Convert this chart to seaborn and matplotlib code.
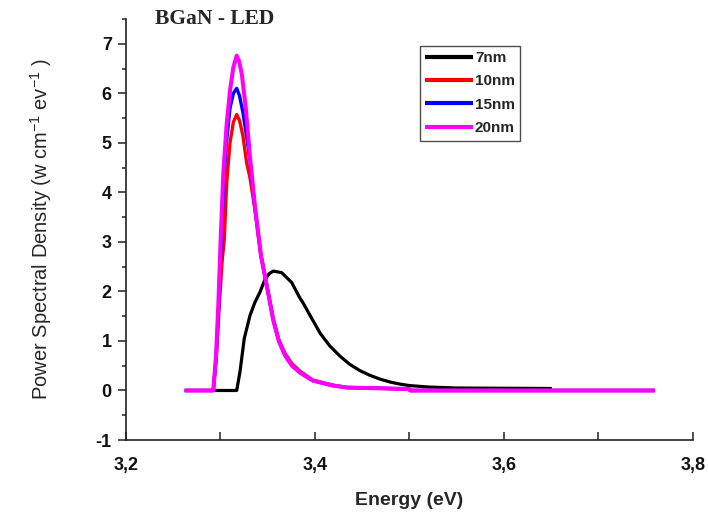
import numpy as np
import pandas as pd
import matplotlib
matplotlib.use("Agg")
import matplotlib.pyplot as plt
import seaborn as sns
from matplotlib.ticker import MultipleLocator

# ---- data ----
series_names = ["7nm", "10nm", "15nm", "20nm"]
series_colors = ["#000000", "#FF0000", "#0000FF", "#FF00FF"]

x_7nm = [3.2945, 3.3175, 3.321, 3.3255, 3.3315, 3.3368, 3.342, 3.3474, 3.352, 3.3562,
         3.365, 3.3757, 3.384, 3.388, 3.395, 3.406, 3.416, 3.427, 3.437, 3.448,
         3.458, 3.469, 3.480, 3.490, 3.500, 3.520, 3.550, 3.600, 3.651]
y_7nm = [0.0, 0.0, 0.38, 1.05, 1.51, 1.78, 1.98, 2.24, 2.36, 2.41,
         2.38, 2.18, 1.88, 1.76, 1.52, 1.15, 0.90, 0.69, 0.53, 0.40,
         0.31, 0.23, 0.17, 0.13, 0.10, 0.07, 0.05, 0.045, 0.04]

x_10nm = [3.2624, 3.2927, 3.2960, 3.2990, 3.3020, 3.3043, 3.3069, 3.3104, 3.3140, 3.3175,
          3.3205, 3.3240, 3.3280, 3.3315, 3.3368, 3.3432, 3.3475, 3.3510, 3.3562, 3.3620,
          3.3686, 3.3760, 3.3845, 3.398, 3.419, 3.434, 3.500, 3.501, 3.760]
y_10nm = [0.0, 0.0, 0.69, 1.70, 2.60, 3.04, 4.20, 5.00, 5.42, 5.57,
          5.45, 5.15, 4.60, 4.30, 3.65, 2.72, 2.30, 1.95, 1.44, 1.03,
          0.75, 0.54, 0.39, 0.21, 0.11, 0.06, 0.03, 0.0, 0.0]

x_15nm = [3.2624, 3.2927, 3.2958, 3.2984, 3.3012, 3.3043, 3.3069, 3.3104, 3.3140, 3.3175,
          3.3205, 3.3242, 3.3290, 3.3315, 3.3368, 3.3432, 3.3475, 3.3510, 3.3562, 3.3620,
          3.3686, 3.3760, 3.3845, 3.398, 3.419, 3.434, 3.500, 3.501, 3.760]
y_15nm = [0.0, 0.0, 0.69, 1.70, 3.04, 4.38, 5.05, 5.70, 6.00, 6.10,
          5.95, 5.60, 5.00, 4.65, 3.70, 2.72, 2.30, 1.95, 1.42, 1.00,
          0.71, 0.50, 0.36, 0.20, 0.10, 0.06, 0.03, 0.0, 0.0]

x_20nm = [3.2624, 3.2927, 3.2956, 3.2980, 3.3005, 3.3033, 3.3069, 3.3104, 3.3139, 3.3175,
          3.3200, 3.3228, 3.3270, 3.3315, 3.3368, 3.3432, 3.3475, 3.3510, 3.3562, 3.3620,
          3.3686, 3.3760, 3.3845, 3.398, 3.419, 3.434, 3.500, 3.501, 3.760]
y_20nm = [0.0, 0.0, 0.69, 1.70, 3.04, 4.38, 5.38, 6.05, 6.52, 6.76,
          6.65, 6.40, 5.73, 4.73, 3.72, 2.72, 2.30, 1.95, 1.42, 1.00,
          0.71, 0.50, 0.36, 0.20, 0.10, 0.06, 0.03, 0.0, 0.0]

x_ticks = [3.2, 3.4, 3.6, 3.8]
x_tick_labels = ["3,2", "3,4", "3,6", "3,8"]
y_ticks = [-1, 0, 1, 2, 3, 4, 5, 6, 7]
y_tick_labels = ["-1", "0", "1", "2", "3", "4", "5", "6", "7"]

title_text = "BGaN - LED"
x_label = "Energy (eV)"
y_label = r"Power Spectral Density (w cm$^{-1}$ ev$^{-1}$ )"

# ---- build long table ----
frames = []
for name, xs, ys in zip(series_names, [x_7nm, x_10nm, x_15nm, x_20nm],
                        [y_7nm, y_10nm, y_15nm, y_20nm]):
    frames.append(pd.DataFrame({"Energy": xs, "PSD": ys, "Thickness": name}))
df = pd.concat(frames, ignore_index=True)

sns.set_style("ticks")
plt.rcParams["font.family"] = ["Liberation Sans", "DejaVu Sans"]
plt.rcParams["mathtext.default"] = "regular"
plt.rcParams["lines.solid_joinstyle"] = "round"
plt.rcParams["lines.solid_capstyle"] = "butt"

fig = plt.figure(figsize=(7.08, 5.15), dpi=100)
ax = fig.add_axes([0.1775, 0.1456, 0.8008, 0.8175])

widths = {"7nm": 2.3, "10nm": 2.4, "15nm": 2.4, "20nm": 2.9}
for name, color in zip(series_names, series_colors):
    sub = df[df["Thickness"] == name]
    sns.lineplot(data=sub, x="Energy", y="PSD", color=color, label=name,
                 linewidth=widths[name], estimator=None, sort=False, ax=ax)

ax.set_xlim(3.2, 3.8)
ax.set_ylim(-1, 7.5)
ax.set_xticks(x_ticks)
ax.set_xticklabels(x_tick_labels)
ax.set_yticks(y_ticks)
ax.set_yticklabels(y_tick_labels)
ax.xaxis.set_minor_locator(MultipleLocator(0.1))
ax.yaxis.set_minor_locator(MultipleLocator(0.5))

for lab in ax.get_xticklabels() + ax.get_yticklabels():
    lab.set_fontweight("bold")
    lab.set_fontsize(13)

ax.tick_params(axis="x", which="both", direction="in", length=6, width=1.1,
               pad=12, colors="#222222", labelcolor="#111111")
ax.tick_params(axis="y", which="major", direction="out", length=6, width=1.1,
               pad=4, colors="#222222", labelcolor="#111111")
ax.tick_params(axis="y", which="minor", direction="out", length=3, width=1.1,
               colors="#222222")

sns.despine(ax=ax)
for sp in ["left", "bottom"]:
    ax.spines[sp].set_linewidth(1.2)
    ax.spines[sp].set_color("#222222")

ax.set_xlabel(x_label, fontsize=14, fontweight="bold", labelpad=13)
ax.set_ylabel(y_label, fontsize=14.5, labelpad=30)

fig.text(155 / 708, 1 - 18.5 / 515, title_text, fontsize=15.5, fontweight="bold",
         family=["Liberation Serif", "DejaVu Serif"], ha="left", va="center")

leg = ax.legend(loc="upper left", bbox_to_anchor=(0.519, 0.937), borderaxespad=0,
                frameon=True, fancybox=False, edgecolor="#222222",
                prop={"family": "Liberation Sans", "weight": "bold", "size": 11},
                handlelength=3.1, handletextpad=0.15, labelspacing=0.62,
                borderpad=0.35)
leg.get_frame().set_linewidth(1.0)
for h in leg.get_lines():
    h.set_linewidth(3)

fig.savefig("out.png", dpi=100)
